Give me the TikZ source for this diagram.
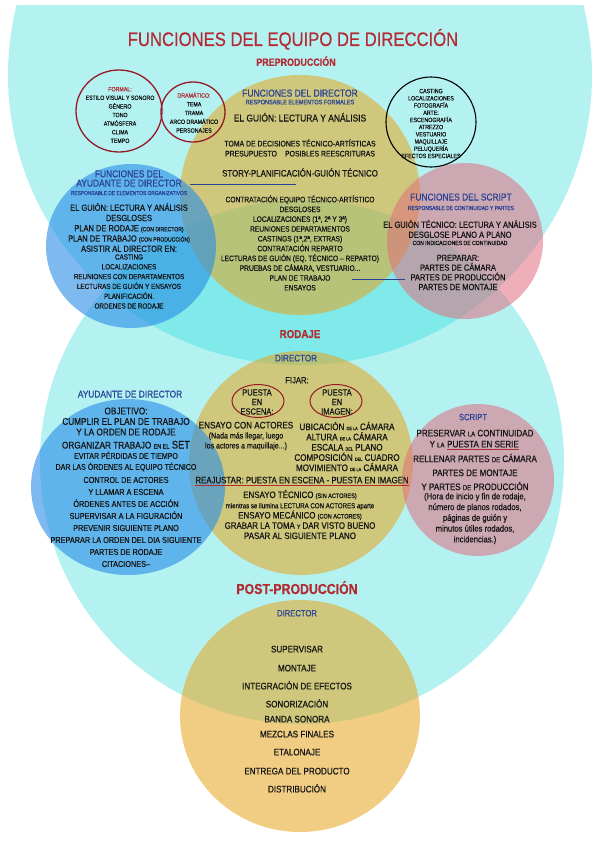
\documentclass[tikz,border=0pt]{standalone}
\usepackage{fontspec}
\setmainfont{Liberation Sans}[FakeStretch=0.85, FakeBold=0.5]
\usetikzlibrary{positioning, calc}

\definecolor{cian}{RGB}{13,213,213}
\definecolor{amarillo}{RGB}{228,164,28}
\definecolor{azul}{RGB}{40,140,230}
\definecolor{rosa}{RGB}{225,110,125}
\definecolor{rojo}{RGB}{178,42,50}
\definecolor{marino}{RGB}{40,65,150}
\definecolor{tinta}{RGB}{20,20,20}
\definecolor{granate}{RGB}{150,25,35}

\newcommand{\tam}[2]{\fontsize{#1}{#2}\selectfont}
\newcommand{\chico}[2][5]{{\fontsize{#1}{#1}\selectfont #2}}

\tikzset{
  fondo/.style={cian, fill opacity=0.31},
  director/.style={amarillo, fill opacity=0.55},
  ayudante/.style={azul, fill opacity=0.6},
  script/.style={rosa, fill opacity=0.55},
  aro/.style={draw=granate, line width=1.3pt},
  linea/.style={draw=marino, line width=1pt},
  subrayado/.style={draw=rojo, line width=0.8pt},
  lista/.style={align=center, inner sep=0pt, text=tinta},
  cabecera/.style={align=center, inner sep=0pt, text=marino},
  etapa/.style={inner sep=0pt, text=rojo},
}

\begin{document}
\begin{tikzpicture}[x=1pt, y=-1pt]
  \useasboundingbox (0,0) rectangle (599,848);
  % etapas
  \begin{scope}
    \clip (0,6) rectangle (599,848);
    \fill[fondo] (300,75) ellipse (292pt and 290pt);
  \end{scope}
  \fill[fondo] (302,462) circle (262pt);

  \fill[director] (300,195) circle (120pt);
  \fill[director] (301,463) circle (112pt);
  \fill[director] (300,716) ellipse (120pt and 116pt);
  \fill[ayudante] (131,246) ellipse (85pt and 82pt);
  \fill[ayudante] (128,487) ellipse (97pt and 88pt);
  \fill[script] (465,241) circle (78pt);
  \fill[script] (478,480) circle (76pt);

  \draw[aro] (119,111) ellipse (43pt and 41pt);
  \draw[aro] (193,112) ellipse (32pt and 30pt);
  \draw[line width=1.1pt] (431,122) circle (45pt);
  \draw[aro, line width=1pt] (258,401) ellipse (26pt and 16.5pt);
  \draw[aro, line width=1pt] (336,401) ellipse (26pt and 16.5pt);

  % preproduccion
  \node[etapa, font=\tam{19.6}{20}, anchor=base] (titulo) at (293,46) {FUNCIONES DEL EQUIPO DE DIRECCIÓN};
  \node[etapa, font=\bfseries\tam{10.5}{11}, anchor=base] (preproduccion) at (296,65.8) {PREPRODUCCIÓN};

  \node[lista, font=\tam{6.2}{8.6}] (formal) at (120,115) {\textcolor{rojo}{FORMAL:}\\ESTILO VISUAL Y SONORO\\GÉNERO\\TONO\\ATMÓSFERA\\CLIMA\\TEMPO};
  \node[lista, font=\tam{6.2}{8.75}] (dramatico) at (194,112.5) {\textcolor{rojo}{DRAMÁTICO:}\\TEMA\\TRAMA\\ARCO DRAMÁTICO\\PERSONAJES};
  \node[lista, font=\tam{6.2}{7.2}] (departamentos) at (431,123.5) {CASTING\\LOCALIZACIONES\\FOTOGRAFÍA\\ARTE:\\ESCENOGRAFÍA\\ATREZZO\\VESTUARIO\\MAQUILLAJE\\PELUQUERÍA\\EFECTOS ESPECIALES};

  \node[cabecera, font=\tam{10}{10}, anchor=base] (dir_pre) at (300,96.6) {FUNCIONES DEL DIRECTOR};
  \node[cabecera, font=\tam{6.5}{6.5}, anchor=base] (dir_pre_resp) at (300,104.3) {RESPONSABLE ELEMENTOS FORMALES};
  \node[lista, font=\tam{9.9}{10}, anchor=base] (dir_pre_guion) at (300,121.5) {EL GUIÓN: LECTURA Y ANÁLISIS};
  \node[lista, font=\tam{8.1}{10}] (dir_pre_toma) at (300,148) {TOMA DE DECISIONES TÉCNICO-ARTÍSTICAS\\PRESUPUESTO\hspace{1em}POSIBLES REESCRITURAS};
  \node[lista, font=\tam{9.3}{10}, anchor=base] (dir_pre_story) at (300,176.5) {STORY-PLANIFICACIÓN-GUIÓN TÉCNICO};
  \node[lista, font=\tam{7.8}{9.8}] (dir_pre_lista) at (300,243) {CONTRATACIÓN EQUIPO TÉCNICO-ARTÍSTICO\\DESGLOSES\\LOCALIZACIONES (1ª, 2ª Y 3ª)\\REUNIONES DEPARTAMENTOS\\CASTINGS (1ª,2ª, EXTRAS)\\CONTRATACIÓN REPARTO\\LECTURAS DE GUIÓN (EQ. TÉCNICO – REPARTO)\\PRUEBAS DE CÁMARA, VESTUARIO...\\PLAN DE TRABAJO\\ENSAYOS};

  \node[cabecera, font=\tam{9.9}{9.3}] (ayu_pre) at (129,178.5) {FUNCIONES DEL\\AYUDANTE DE DIRECTOR};
  \node[cabecera, font=\tam{5.7}{6}, anchor=base] (ayu_pre_resp) at (129,195) {RESPONSABLE DE ELEMENTOS ORGANIZATIVOS};
  \node[lista, font=\tam{8.8}{10.25}] (ayu_pre_guion) at (129,227.5) {EL GUIÓN: LECTURA Y ANÁLISIS\\DESGLOSES\\PLAN DE RODAJE \chico[6]{(CON DIRECTOR)}\\PLAN DE TRABAJO \chico[6]{(CON PRODUCCIÓN)}\\ASISTIR AL DIRECTOR EN:};
  \node[lista, font=\tam{7.4}{9.8}] (ayu_pre_asistir) at (129,281.5) {CASTING\\LOCALIZACIONES\\REUNIONES CON DEPARTAMENTOS\\LECTURAS DE GUIÓN Y ENSAYOS\\PLANIFICACIÓN.\\ORDENES DE RODAJE};

  \node[cabecera, font=\tam{9.9}{10}, anchor=base] (scr_pre) at (461,200.5) {FUNCIONES DEL SCRIPT};
  \node[cabecera, font=\tam{5.8}{6}, anchor=base] (scr_pre_resp) at (461,210) {RESPONSABLE DE CONTINUIDAD Y PARTES};
  \node[lista, font=\tam{8.8}{10}] (scr_pre_guion) at (460,229) {EL GUIÓN TÉCNICO: LECTURA Y ANÁLISIS\\DESGLOSE PLANO A PLANO};
  \node[lista, font=\tam{6}{6}, anchor=base] (scr_pre_cont) at (460,245) {CON INDICACIONES DE CONTINUIDAD};
  \node[lista, font=\tam{8.8}{9.7}] (scr_pre_partes) at (458,272.5) {PREPARAR:\\PARTES DE CÁMARA\\PARTES DE PRODUCCIÓN\\PARTES DE MONTAJE};

  \coordinate (ayu_pre_fin) at (190,184);
  \coordinate (story_ini) at (296,184);
  \draw[linea] (ayu_pre_fin) -- (story_ini);
  \coordinate (lista_fin) at (352,279);
  \coordinate (partes_prod) at (405,279);
  \draw[linea] (lista_fin) -- (partes_prod);

  % rodaje
  \node[etapa, font=\bfseries\tam{11.5}{12}, anchor=base] (rodaje) at (300,338) {RODAJE};
  \node[cabecera, font=\tam{9.5}{10}, anchor=base] (dir_rod) at (296,361.4) {DIRECTOR};
  \node[lista, font=\tam{9}{10}, anchor=base] (fijar) at (297,383.3) {FIJAR:};
  \node[lista, font=\tam{8.8}{9.5}] (escena) at (257,402) {PUESTA\\EN\\ESCENA:};
  \node[lista, font=\tam{8.8}{9.5}] (imagen) at (337,402) {PUESTA\\EN\\IMAGEN:};
  \node[lista, font=\tam{9.5}{10}] (ensayo) at (246,436) {ENSAYO CON ACTORES\\{\tam{8.3}{10}(Nada más llegar, luego}\\{\tam{8.3}{10}los actores a maquillaje...)}};
  \node[lista, font=\tam{9.5}{10.25}] (camara) at (347,446.5) {UBICACIÓN \chico[4.5]{DE LA} CÁMARA\\ALTURA \chico[4.5]{DE LA} CÁMARA\\ESCALA \chico[4.5]{DEL} PLANO\\COMPOSICIÓN \chico[4.5]{DEL} CUADRO\\MOVIMIENTO \chico[4.5]{DE LA} CÁMARA};
  \node[lista, font=\tam{9.25}{10}, anchor=base] (reajustar) at (302,483.3) {REAJUSTAR: PUESTA EN ESCENA - PUESTA EN IMAGEN};
  \draw[subrayado] ([yshift=-1.8pt]reajustar.base west) -- ([yshift=-1.8pt]reajustar.base east);
  \node[lista, font=\tam{9.3}{10.25}] (ensayo_tec) at (300,514.5) {ENSAYO TÉCNICO \chico[6.5]{(SIN ACTORES)}\\{\tam{7.2}{10}mientras se ilumina LECTURA CON ACTORES aparte}\\ENSAYO MECÁNICO \chico[6.5]{(CON ACTORES)}\\GRABAR LA TOMA \chico[6]{Y} DAR VISTO BUENO\\PASAR AL SIGUIENTE PLANO};

  \node[cabecera, font=\tam{9.8}{10}, anchor=base] (ayu_rod) at (130,397.5) {AYUDANTE DE DIRECTOR};
  \node[lista, font=\tam{9.7}{10.5}] (objetivo) at (126,421.5) {OBJETIVO:\\CUMPLIR EL PLAN DE TRABAJO\\Y LA ORDEN DE RODAJE};
  \node[lista, font=\tam{9.7}{10}, anchor=base] (organizar) at (126,448.5) {ORGANIZAR TRABAJO \chico[6.5]{EN EL} {\tam{11}{10}SET}};
  \node[lista, font=\tam{8.3}{11}] (evitar) at (126,461.5) {EVITAR PÉRDIDAS DE TIEMPO\\DAR LAS ÓRDENES AL EQUIPO TÉCNICO};
  \node[lista, font=\tam{8.6}{12}] (control) at (126,522) {CONTROL DE ACTORES\\Y LLAMAR A ESCENA\\ÓRDENES ANTES DE ACCIÓN\\SUPERVISAR A LA FIGURACIÓN\\PREVENIR SIGUIENTE PLANO\\PREPARAR LA ORDEN DEL DIA SIGUIENTE\\PARTES DE RODAJE\\CITACIONES–};

  \node[cabecera, font=\tam{9}{10}, anchor=base] (scr_rod) at (473,420.2) {SCRIPT};
  \node[lista, font=\tam{9.5}{11}, anchor=base] (preservar) at (475,436.4) {PRESERVAR \chico[7]{LA} CONTINUIDAD};
  \node[lista, font=\tam{9.5}{11}, anchor=base] (serie) at (483,447.4) {PUESTA EN SERIE};
  \node[lista, font=\tam{9.5}{11}, left=0pt of serie] (y_la) {Y \chico[7]{LA}\ };
  \draw[subrayado] ([yshift=-1.8pt]serie.base west) -- ([yshift=-1.8pt]serie.base east);
  \node[lista, font=\tam{9.5}{14}] (rellenar) at (475,472) {RELLENAR PARTES \chico[7]{DE} CÁMARA\\PARTES DE MONTAJE\\Y PARTES \chico[7]{DE} PRODUCCIÓN};
  \node[lista, font=\tam{9}{10.75}] (hora) at (475,518.5) {(Hora de inicio y fin de rodaje,\\número de planos rodados,\\páginas de guión y\\minutos útiles rodados,\\incidencias.)};

  % postproduccion
  \node[etapa, font=\bfseries\tam{14.5}{15}, anchor=base] (post) at (297,594) {POST-PRODUCCIÓN};
  \node[cabecera, font=\tam{9}{10}, anchor=base] (dir_post) at (297,616.3) {DIRECTOR};
  \foreach \y/\tarea [count=\i] in {652.4/SUPERVISAR, 671.4/MONTAJE, 689.4/INTEGRACIÓN DE EFECTOS, 707.4/SONORIZACIÓN, 722.4/BANDA SONORA, 737.4/MEZCLAS FINALES, 755.4/ETALONAJE, 774.4/ENTREGA DEL PRODUCTO, 792.4/DISTRIBUCIÓN}
    \node[lista, font=\tam{9.5}{10}, anchor=base] (post_\i) at (297,\y) {\tarea};
\end{tikzpicture}
\end{document}
